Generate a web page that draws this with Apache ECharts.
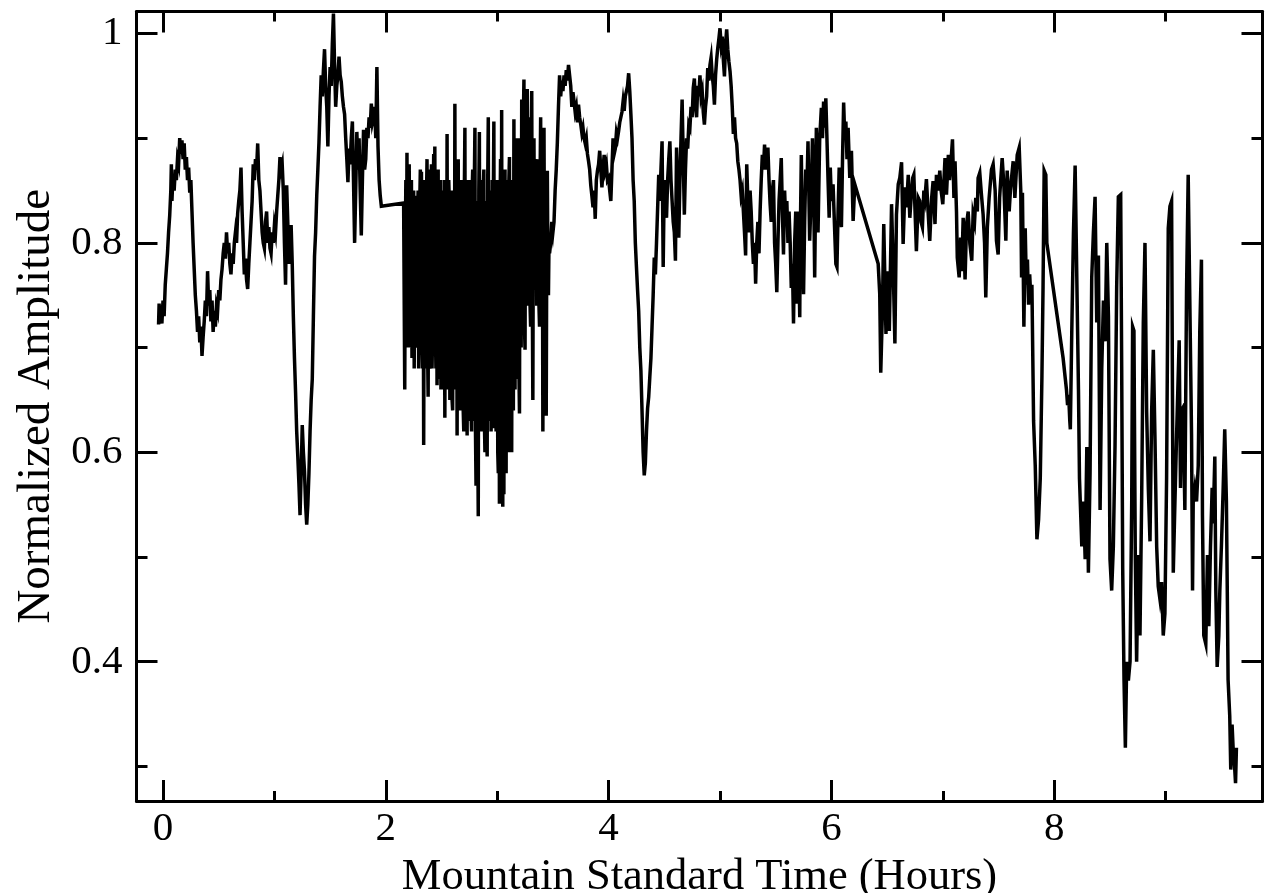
<!DOCTYPE html>
<html>
<head>
<meta charset="utf-8">
<title>Normalized Amplitude vs Mountain Standard Time</title>
<script src="https://cdn.jsdelivr.net/npm/echarts@6/dist/echarts.min.js"></script>
<style>
  html, body { margin: 0; padding: 0; background: #fff; }
  #chart { width: 1269px; height: 893px; }
</style>
</head>
<body>
<div id="chart"></div>
<script>
// Tick positions (hours and amplitude)
const hourMajorTicks = [0, 2, 4, 6, 8];
const hourMinorTicks = [1, 3, 5, 7, 9];
const ampMajorTicks = [0.4, 0.6, 0.8, 1];
const ampMinorTicks = [0.3, 0.5, 0.7, 0.9];

// Recorded samples: [hour, normalized amplitude]
const runMorning = [
  [-0.04,0.722],[-0.035,0.742],[-0.03,0.725],[-0.02,0.74],[-0.01,0.723],[0,0.745],[0.01,0.73],[0.02,0.76],
  [0.03,0.775],[0.04,0.79],[0.05,0.81],[0.06,0.826],[0.07,0.85],[0.075,0.875],[0.08,0.84],[0.09,0.865],
  [0.1,0.85],[0.11,0.87],[0.12,0.86],[0.13,0.88],[0.14,0.875],[0.15,0.9],[0.16,0.885],[0.17,0.898],
  [0.18,0.88],[0.19,0.895],[0.2,0.87],[0.21,0.882],[0.22,0.86],[0.23,0.872],[0.24,0.848],[0.25,0.86],
  [0.26,0.83],[0.27,0.8],[0.28,0.775],[0.29,0.75],[0.3,0.735],[0.31,0.715],[0.32,0.73],[0.33,0.705],
  [0.34,0.72],[0.35,0.692],[0.36,0.71],[0.37,0.725],[0.38,0.745],[0.39,0.73],[0.4,0.773],[0.41,0.74],
  [0.42,0.755],[0.43,0.725],[0.44,0.745],[0.45,0.715],[0.46,0.735],[0.47,0.72],[0.48,0.74],[0.49,0.735],
  [0.5,0.755],[0.51,0.745],[0.52,0.765],[0.53,0.775],[0.54,0.79],[0.55,0.8],[0.56,0.785],[0.57,0.81],
  [0.58,0.79],[0.59,0.8],[0.6,0.78],[0.61,0.77],[0.62,0.79],[0.63,0.78],[0.64,0.8],[0.65,0.81],
  [0.66,0.8],[0.67,0.828],[0.68,0.84],[0.69,0.85],[0.7,0.872],[0.71,0.83],[0.72,0.8],[0.73,0.77],
  [0.74,0.785],[0.75,0.765],[0.76,0.756],[0.77,0.78],[0.78,0.8],[0.79,0.82],[0.8,0.84],[0.81,0.875],
  [0.82,0.86],[0.83,0.88],[0.84,0.87],[0.85,0.895],[0.86,0.86],[0.87,0.85],[0.88,0.83],[0.89,0.81],
  [0.9,0.8],[0.91,0.795],[0.92,0.82],[0.93,0.83],[0.94,0.8],[0.95,0.815],[0.96,0.795],[0.97,0.79],
  [0.98,0.81],[0.99,0.8],[1.0,0.817],[1.01,0.81],[1.02,0.83],[1.03,0.845],[1.04,0.86],[1.05,0.882],
  [1.06,0.87],[1.07,0.875],[1.08,0.85],[1.09,0.8],[1.1,0.76],[1.105,0.8],[1.11,0.855],[1.12,0.82],
  [1.13,0.78],[1.14,0.8],[1.15,0.817],[1.16,0.78],[1.17,0.73],[1.18,0.69],[1.19,0.657],[1.2,0.62],
  [1.21,0.596],[1.22,0.57],[1.23,0.54],[1.24,0.58],[1.25,0.626],[1.26,0.6],[1.27,0.582],[1.28,0.55],
  [1.29,0.531],[1.3,0.55],[1.31,0.58],[1.32,0.62],[1.33,0.65],[1.34,0.67],[1.35,0.73],[1.36,0.787],
  [1.37,0.81],[1.38,0.845],[1.39,0.87],[1.4,0.896],[1.41,0.93],[1.42,0.96],[1.43,0.94],[1.44,0.965],
  [1.45,0.985],[1.46,0.95],[1.47,0.93],[1.48,0.892],[1.49,0.94],[1.5,0.968],[1.51,0.95],[1.52,0.99],
  [1.53,1.019],[1.54,0.97],[1.55,0.93],[1.56,0.95],[1.57,0.96],[1.58,0.978],[1.59,0.96],[1.6,0.954],
  [1.61,0.94],[1.62,0.93],[1.63,0.923],[1.64,0.9],[1.65,0.88],[1.66,0.858],[1.67,0.89],[1.68,0.875],
  [1.69,0.9],[1.7,0.916],[1.71,0.86],[1.72,0.8],[1.73,0.85],[1.74,0.906],[1.75,0.87],[1.76,0.9],
  [1.77,0.85],[1.78,0.807],[1.79,0.86],[1.8,0.908],[1.81,0.87],[1.82,0.88],[1.83,0.91],[1.84,0.9],
  [1.85,0.92],[1.86,0.91],[1.87,0.933],[1.88,0.915],[1.89,0.92],[1.9,0.93],[1.91,0.9],[1.92,0.968],
  [1.93,0.892],[1.94,0.86],[1.95,0.845],[1.96,0.835]
];

const runTurbulent = [
  [2.16,0.838],[2.17,0.66],[2.175,0.8],[2.18,0.86],[2.185,0.7],[2.19,0.886],[2.195,0.72],[2.2,0.74],
  [2.205,0.85],[2.21,0.875],[2.215,0.7],[2.22,0.75],[2.225,0.84],[2.23,0.86],[2.235,0.69],[2.24,0.72],
  [2.245,0.83],[2.25,0.85],[2.255,0.68],[2.26,0.845],[2.265,0.7],[2.27,0.71],[2.275,0.84],[2.28,0.7],
  [2.285,0.82],[2.29,0.85],[2.295,0.68],[2.3,0.72],[2.305,0.84],[2.31,0.87],[2.315,0.7],[2.32,0.868],
  [2.325,0.72],[2.33,0.68],[2.335,0.83],[2.34,0.607],[2.345,0.8],[2.35,0.86],[2.355,0.68],[2.36,0.7],
  [2.365,0.84],[2.37,0.88],[2.375,0.7],[2.38,0.653],[2.385,0.82],[2.39,0.87],[2.395,0.68],[2.4,0.69],
  [2.405,0.85],[2.41,0.875],[2.415,0.68],[2.42,0.715],[2.425,0.84],[2.43,0.885],[2.435,0.7],[2.44,0.892],
  [2.445,0.72],[2.45,0.68],[2.455,0.86],[2.46,0.664],[2.465,0.82],[2.47,0.87],[2.475,0.67],[2.48,0.68],
  [2.485,0.84],[2.49,0.86],[2.495,0.66],[2.5,0.67],[2.505,0.85],[2.51,0.84],[2.515,0.66],[2.52,0.68],
  [2.525,0.86],[2.53,0.633],[2.535,0.8],[2.54,0.82],[2.545,0.66],[2.55,0.904],[2.555,0.68],[2.56,0.66],
  [2.565,0.86],[2.57,0.84],[2.575,0.65],[2.58,0.67],[2.585,0.85],[2.59,0.8],[2.595,0.65],[2.6,0.64],
  [2.605,0.84],[2.61,0.85],[2.615,0.66],[2.62,0.933],[2.625,0.7],[2.63,0.66],[2.635,0.86],[2.64,0.616],
  [2.645,0.82],[2.65,0.88],[2.655,0.64],[2.66,0.66],[2.665,0.85],[2.67,0.86],[2.675,0.65],[2.68,0.64],
  [2.685,0.86],[2.69,0.84],[2.695,0.64],[2.7,0.62],[2.705,0.85],[2.71,0.91],[2.715,0.66],[2.72,0.65],
  [2.725,0.86],[2.73,0.616],[2.735,0.84],[2.74,0.86],[2.745,0.63],[2.75,0.66],[2.755,0.86],[2.76,0.84],
  [2.765,0.64],[2.77,0.62],[2.775,0.85],[2.78,0.87],[2.785,0.63],[2.79,0.64],[2.795,0.86],[2.8,0.91],
  [2.805,0.62],[2.81,0.568],[2.815,0.84],[2.82,0.84],[2.825,0.62],[2.83,0.539],[2.835,0.85],[2.84,0.906],
  [2.845,0.64],[2.85,0.62],[2.855,0.86],[2.86,0.82],[2.865,0.62],[2.87,0.64],[2.875,0.85],[2.88,0.87],
  [2.885,0.63],[2.89,0.6],[2.895,0.84],[2.9,0.84],[2.905,0.62],[2.91,0.596],[2.915,0.86],[2.92,0.92],
  [2.925,0.64],[2.93,0.63],[2.935,0.85],[2.94,0.83],[2.945,0.62],[2.95,0.66],[2.955,0.86],[2.96,0.623],
  [2.965,0.84],[2.97,0.916],[2.975,0.63],[2.98,0.64],[2.985,0.86],[2.99,0.62],[2.995,0.84],[3.0,0.86],
  [3.005,0.6],[3.01,0.58],[3.015,0.84],[3.02,0.551],[3.025,0.82],[3.03,0.88],[3.035,0.62],[3.04,0.927],
  [3.045,0.6],[3.05,0.548],[3.055,0.84],[3.06,0.56],[3.065,0.82],[3.07,0.87],[3.075,0.6],[3.08,0.58],
  [3.085,0.86],[3.09,0.85],[3.095,0.62],[3.1,0.6],[3.105,0.86],[3.11,0.882],[3.115,0.63],[3.12,0.62],
  [3.125,0.85],[3.13,0.6],[3.135,0.84],[3.14,0.86],[3.145,0.64],[3.15,0.918],[3.155,0.68],[3.16,0.66],
  [3.165,0.88],[3.17,0.9],[3.175,0.67],[3.18,0.7],[3.185,0.9],[3.19,0.88],[3.195,0.68],[3.2,0.637],
  [3.205,0.88],[3.21,0.9],[3.215,0.7],[3.22,0.937],[3.225,0.72],[3.23,0.74],[3.235,0.92],[3.24,0.956],
  [3.245,0.72],[3.25,0.698],[3.255,0.9],[3.26,0.9],[3.265,0.74],[3.27,0.947],[3.275,0.76],[3.28,0.78],
  [3.285,0.92],[3.29,0.88],[3.295,0.74],[3.3,0.72],[3.305,0.9],[3.31,0.945],[3.315,0.75],[3.32,0.65],
  [3.325,0.86],[3.33,0.9],[3.335,0.76],[3.34,0.8],[3.345,0.88],[3.35,0.84],[3.355,0.74],[3.36,0.76],
  [3.365,0.88],[3.37,0.86],[3.375,0.74],[3.38,0.72],[3.385,0.86],[3.39,0.92],[3.395,0.76],[3.4,0.75],
  [3.405,0.86],[3.41,0.62],[3.415,0.84],[3.42,0.91],[3.425,0.76],[3.43,0.7],[3.435,0.84],[3.44,0.635],
  [3.445,0.8],[3.45,0.869],[3.455,0.78],[3.46,0.75],[3.465,0.8],[3.47,0.79]
];

const runMidday = [
  [3.48,0.8],[3.49,0.82],[3.5,0.81],[3.51,0.82],[3.52,0.85],[3.53,0.87],[3.54,0.896],[3.55,0.93],
  [3.56,0.96],[3.57,0.94],[3.58,0.955],[3.59,0.945],[3.6,0.96],[3.61,0.95],[3.62,0.965],[3.63,0.955],
  [3.64,0.97],[3.65,0.971],[3.66,0.95],[3.67,0.93],[3.68,0.944],[3.69,0.935],[3.7,0.925],[3.71,0.93],
  [3.72,0.915],[3.73,0.932],[3.74,0.92],[3.75,0.913],[3.76,0.905],[3.77,0.91],[3.78,0.9],[3.79,0.895],
  [3.8,0.9],[3.81,0.885],[3.82,0.878],[3.83,0.87],[3.84,0.855],[3.85,0.845],[3.86,0.834],[3.87,0.85],
  [3.88,0.823],[3.89,0.86],[3.9,0.869],[3.91,0.875],[3.92,0.888],[3.93,0.87],[3.94,0.853],[3.95,0.87],
  [3.96,0.884],[3.97,0.87],[3.98,0.875],[3.99,0.86],[4.0,0.862],[4.01,0.85],[4.02,0.84],[4.03,0.87],
  [4.04,0.9],[4.05,0.885],[4.06,0.89],[4.07,0.905],[4.08,0.9],[4.09,0.907],[4.1,0.915],[4.11,0.92],
  [4.12,0.925],[4.13,0.935],[4.14,0.926],[4.15,0.94],[4.16,0.945],[4.17,0.95],[4.18,0.962],[4.19,0.945],
  [4.2,0.923],[4.21,0.9],[4.22,0.86],[4.23,0.84],[4.24,0.8],[4.25,0.777],[4.26,0.755],[4.27,0.735],
  [4.28,0.7],[4.29,0.678],[4.3,0.64],[4.31,0.6],[4.32,0.578],[4.33,0.59],[4.34,0.62],[4.35,0.642],
  [4.36,0.653],[4.37,0.672],[4.38,0.69],[4.39,0.72],[4.4,0.75],[4.41,0.786],[4.42,0.77],[4.43,0.8],
  [4.44,0.8],[4.45,0.865],[4.46,0.84],[4.47,0.87],[4.48,0.897],[4.49,0.777],[4.5,0.86],[4.51,0.84],
  [4.52,0.824],[4.53,0.86],[4.54,0.88],[4.55,0.897],[4.56,0.86],[4.57,0.84],[4.58,0.82],[4.59,0.81],
  [4.6,0.783],[4.61,0.891],[4.62,0.85],[4.63,0.805],[4.64,0.86],[4.65,0.9],[4.66,0.937],[4.67,0.88],
  [4.68,0.827],[4.69,0.87],[4.7,0.9],[4.71,0.89],[4.72,0.913],[4.73,0.91],[4.74,0.93],[4.75,0.92],
  [4.76,0.948],[4.77,0.957],[4.78,0.93],[4.79,0.92],[4.8,0.95],[4.81,0.94],[4.82,0.96],[4.83,0.94],
  [4.84,0.945],[4.85,0.925],[4.86,0.913],[4.87,0.93],[4.88,0.94],[4.89,0.967],[4.9,0.955],[4.91,0.97],
  [4.92,0.977],[4.93,0.96],[4.94,0.95],[4.95,0.932],[4.96,0.96],[4.97,0.975],[4.98,0.986],[4.99,0.995],
  [5.0,1.005],[5.01,0.99],[5.02,0.997],[5.03,0.975],[5.04,0.959],[5.05,0.99],[5.06,1.004],[5.07,0.985],
  [5.08,0.973],[5.09,0.964],[5.1,0.95],[5.11,0.93],[5.12,0.904],[5.13,0.92],[5.14,0.9],[5.15,0.895],
  [5.16,0.878],[5.17,0.87],[5.18,0.86],[5.19,0.845],[5.2,0.85],[5.21,0.83],[5.22,0.81],[5.23,0.788],
  [5.24,0.875],[5.25,0.84],[5.26,0.81],[5.27,0.85],[5.28,0.83],[5.29,0.8],[5.3,0.78],[5.31,0.8],
  [5.32,0.761],[5.33,0.8],[5.34,0.82],[5.35,0.79],[5.36,0.83],[5.37,0.86],[5.38,0.884],[5.39,0.87],
  [5.4,0.894],[5.41,0.87],[5.42,0.88],[5.43,0.891],[5.44,0.86],[5.45,0.837],[5.46,0.82],[5.47,0.85],
  [5.48,0.86],[5.49,0.8],[5.5,0.78],[5.51,0.753],[5.52,0.8],[5.53,0.84],[5.54,0.86],[5.55,0.881],
  [5.56,0.83],[5.57,0.789],[5.58,0.85],[5.59,0.82],[5.6,0.84],[5.61,0.8],[5.62,0.83],[5.63,0.8],
  [5.64,0.757],[5.65,0.78],[5.66,0.723],[5.67,0.8],[5.68,0.83],[5.69,0.742],[5.7,0.83],[5.716,0.729],
  [5.72,0.8],[5.73,0.884],[5.74,0.81],[5.75,0.751],[5.76,0.82],[5.77,0.87],[5.78,0.85],[5.79,0.897],
  [5.805,0.802],[5.82,0.85],[5.83,0.9],[5.84,0.86],[5.85,0.767],[5.865,0.91],[5.88,0.81],[5.895,0.9],
  [5.91,0.929],[5.92,0.9],[5.93,0.935],[5.94,0.91],[5.95,0.938],[5.96,0.9],[5.97,0.86],[5.98,0.824],
  [5.99,0.872],[6.0,0.84],[6.015,0.856],[6.03,0.81],[6.04,0.78],[6.05,0.777],[6.06,0.83],[6.07,0.872],
  [6.08,0.84],[6.09,0.815],[6.1,0.88],[6.11,0.934],[6.12,0.9],[6.13,0.916],[6.14,0.88],[6.15,0.91],
  [6.165,0.862],[6.18,0.888],[6.195,0.821],[6.21,0.856]
];

const runAfternoon = [
  [6.42,0.78],[6.434,0.751],[6.443,0.676],[6.458,0.735],[6.47,0.818],[6.49,0.713],[6.5,0.773],[6.52,0.716],
  [6.54,0.837],[6.554,0.78],[6.57,0.704],[6.584,0.827],[6.6,0.856],[6.614,0.862],[6.63,0.877],[6.644,0.799],
  [6.66,0.853],[6.674,0.834],[6.69,0.865],[6.704,0.824],[6.72,0.85],[6.73,0.862],[6.74,0.865],[6.763,0.792],
  [6.78,0.843],[6.793,0.84],[6.805,0.82],[6.817,0.815],[6.83,0.85],[6.84,0.843],[6.853,0.861],[6.868,0.83],
  [6.883,0.802],[6.9,0.843],[6.913,0.859],[6.93,0.818],[6.943,0.865],[6.96,0.85],[6.973,0.869],[6.985,0.85],
  [7.0,0.837],[7.02,0.881],[7.033,0.846],[7.05,0.884],[7.06,0.86],[7.07,0.872],[7.087,0.899],[7.1,0.843],
  [7.11,0.878],[7.123,0.83],[7.13,0.786],[7.147,0.767],[7.16,0.805],[7.17,0.773],[7.183,0.824],[7.2,0.765],
  [7.213,0.818],[7.228,0.83],[7.243,0.799],[7.26,0.783],[7.272,0.827],[7.285,0.82],[7.296,0.843],[7.31,0.83],
  [7.317,0.862],[7.332,0.867],[7.347,0.846],[7.362,0.827],[7.375,0.8],[7.386,0.748],[7.4,0.815],[7.416,0.843],
  [7.437,0.87],[7.452,0.875],[7.47,0.85],[7.482,0.802],[7.497,0.789],[7.51,0.843],[7.52,0.86],[7.533,0.881],
  [7.548,0.856],[7.566,0.802],[7.578,0.869],[7.596,0.83],[7.607,0.85],[7.617,0.862],[7.632,0.878],[7.647,0.843],
  [7.668,0.884],[7.686,0.891],[7.7,0.85],[7.707,0.767],[7.715,0.848],[7.728,0.72],[7.74,0.814],[7.75,0.76],
  [7.76,0.784],[7.77,0.741],[7.78,0.77],[7.79,0.748],[7.8,0.76],[7.815,0.63],[7.83,0.587],[7.845,0.517],
  [7.86,0.536],[7.875,0.575],[7.89,0.673],[7.9,0.758],[7.91,0.869],[7.925,0.865],[7.934,0.8]
];

const runEvening = [
  [8.08,0.69],[8.1,0.67],[8.11,0.66],[8.12,0.645],[8.13,0.655],[8.14,0.63],[8.145,0.622],[8.158,0.716],
  [8.173,0.81],[8.188,0.874],[8.203,0.767],[8.218,0.66],[8.227,0.575],[8.248,0.51],[8.263,0.553],[8.278,0.498],
  [8.293,0.605],[8.307,0.485],[8.322,0.58],[8.337,0.767],[8.352,0.81],[8.367,0.844],[8.382,0.724],[8.397,0.788],
  [8.412,0.545],[8.427,0.68],[8.442,0.745],[8.457,0.706],[8.472,0.8],[8.487,0.73],[8.501,0.498],[8.516,0.468],
  [8.531,0.51],[8.546,0.605],[8.561,0.758],[8.576,0.844],[8.597,0.846],[8.606,0.681],[8.615,0.489],[8.627,0.382],
  [8.639,0.318],[8.651,0.4],[8.666,0.382],[8.681,0.4],[8.696,0.553],[8.704,0.72],[8.716,0.716],[8.728,0.502],
  [8.74,0.4],[8.755,0.502],[8.77,0.425],[8.785,0.553],[8.8,0.724],[8.815,0.8],[8.83,0.639],[8.845,0.566],
  [8.86,0.515],[8.875,0.64],[8.89,0.698],[8.905,0.612],[8.92,0.51],[8.934,0.472],[8.949,0.46],[8.964,0.476],
  [8.979,0.425],[8.994,0.446],[9.009,0.575],[9.024,0.814],[9.039,0.835],[9.054,0.84],[9.069,0.485],[9.084,0.553],
  [9.099,0.617],[9.113,0.672],[9.122,0.707],[9.134,0.566],[9.143,0.64],[9.158,0.643],[9.173,0.545],[9.188,0.754],
  [9.203,0.865],[9.218,0.865],[9.233,0.617],[9.242,0.468],[9.248,0.553],[9.263,0.566],[9.278,0.553],[9.293,0.587],
  [9.307,0.716],[9.322,0.784],[9.331,0.54],[9.343,0.425],[9.361,0.417],[9.376,0.502],[9.388,0.434],[9.403,0.51],
  [9.418,0.566],[9.427,0.532],[9.442,0.596],[9.451,0.468],[9.463,0.395],[9.478,0.425],[9.487,0.468],[9.501,0.51],
  [9.516,0.562],[9.531,0.622],[9.546,0.553],[9.555,0.455],[9.561,0.383],[9.576,0.348],[9.585,0.297],[9.597,0.34],
  [9.606,0.318],[9.621,0.297],[9.628,0.284],[9.636,0.318]
];

const samples = [].concat(runMorning, runTurbulent, runMidday, runAfternoon, runEvening);

const X_MIN = -0.238, X_MAX = 9.87;
const Y_MIN = 0.267, Y_MAX = 1.021;
const FONT = '"Liberation Serif", "DejaVu Serif", serif';
const INK = '#000';

function hourAxis(position, ticks, tickLen, extra) {
  return Object.assign({
    type: 'value', position: position, min: X_MIN, max: X_MAX,
    axisLine: { show: false, onZero: false },
    axisTick: { show: true, inside: true, length: tickLen, customValues: ticks,
                lineStyle: { color: INK, width: 3 } },
    axisLabel: { show: false },
    splitLine: { show: false }
  }, extra || {});
}
function ampAxis(position, ticks, tickLen, extra) {
  return Object.assign({
    type: 'value', position: position, min: Y_MIN, max: Y_MAX,
    axisLine: { show: false, onZero: false },
    axisTick: { show: true, inside: true, length: tickLen, customValues: ticks,
                lineStyle: { color: INK, width: 3 } },
    axisLabel: { show: false },
    splitLine: { show: false }
  }, extra || {});
}

const frameLine = { show: true, onZero: false, lineStyle: { color: INK, width: 3 } };

const chart = echarts.init(document.getElementById('chart'), null, { renderer: 'canvas' });
chart.setOption({
  animation: false,
  backgroundColor: '#fff',
  grid: { left: 136.5, top: 11.5, width: 1126, height: 789.5,
          containLabel: false, outerBoundsMode: 'none' },
  xAxis: [
    hourAxis('bottom', hourMajorTicks, 21, {
      axisLine: frameLine,
      axisLabel: { show: true, customValues: hourMajorTicks, margin: 8,
                   fontFamily: FONT, fontSize: 41, color: INK },
      name: 'Mountain Standard Time (Hours)', nameLocation: 'middle', nameGap: 50,
      nameTextStyle: { fontFamily: FONT, fontSize: 44.5, color: INK }
    }),
    hourAxis('bottom', hourMinorTicks, 10),
    hourAxis('top', hourMajorTicks, 21, { axisLine: frameLine }),
    hourAxis('top', hourMinorTicks, 10)
  ],
  yAxis: [
    ampAxis('left', ampMajorTicks, 21, {
      axisLine: frameLine,
      axisLabel: { show: true, customValues: ampMajorTicks, margin: 14,
                   fontFamily: FONT, fontSize: 41, color: INK },
      name: 'Normalized Amplitude', nameLocation: 'middle', nameGap: 76,
      nameTextStyle: { fontFamily: FONT, fontSize: 47, color: INK }
    }),
    ampAxis('left', ampMinorTicks, 11),
    ampAxis('right', ampMajorTicks, 21, { axisLine: frameLine }),
    ampAxis('right', ampMinorTicks, 11)
  ],
  series: [{
    type: 'line',
    xAxisIndex: 0, yAxisIndex: 0,
    data: samples,
    showSymbol: false,
    symbol: 'none',
    sampling: null,
    lineStyle: { color: INK, width: 3.5, join: 'miter' },
    emphasis: { disabled: true }
  }]
});
</script>
</body>
</html>
